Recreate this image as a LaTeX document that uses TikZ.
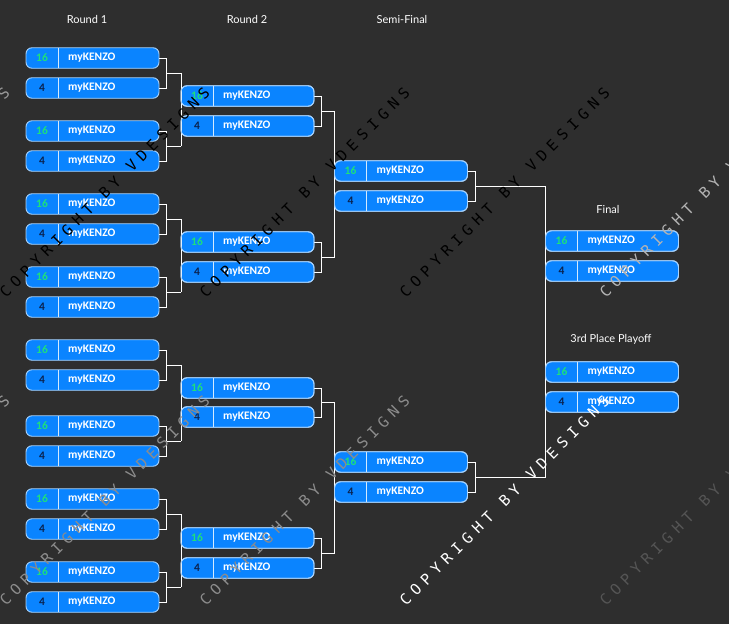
\documentclass[tikz,border=0pt]{standalone}
\usepackage{fontspec}
\setmainfont{Lato}
\newfontfamily\boxfont{Carlito}
\newfontfamily\wmfont{DejaVu Sans Mono}[LetterSpace=37]
\usetikzlibrary{calc}
\definecolor{bg}{HTML}{2E2E2E}
\definecolor{boxblue}{HTML}{0A84FF}
\definecolor{boxline}{HTML}{A8D4FF}
\definecolor{seedgreen}{HTML}{1EE07A}
\definecolor{seednavy}{HTML}{0A2350}
\definecolor{wmgray}{HTML}{999999}
\definecolor{wmlight}{HTML}{B4B4B4}
\definecolor{wmmid}{HTML}{8C8C8C}
\definecolor{wmdark}{HTML}{555555}
\tikzset{
  teamnode/.style={rectangle, rounded corners=6pt, minimum width=133pt, minimum height=20.5pt,
    inner sep=0pt, outer sep=0pt, fill=boxblue, draw=boxline, line width=0.9pt},
  divline/.style={draw=boxline!50!white, line width=0.9pt},
  seedtext/.style={font=\boxfont\bfseries\fontsize{11.5}{12}\selectfont, inner sep=0pt},
  nametext/.style={font=\boxfont\bfseries\fontsize{11.5}{12}\selectfont, text=white, inner sep=0pt, anchor=west},
  conn/.style={draw=white, line width=1pt},
  header/.style={font=\fontsize{11}{13}\selectfont, text=white, inner sep=0pt},
  wm/.style={font=\wmfont\fontsize{15}{15}\selectfont, rotate=45, anchor=base west, inner sep=0pt},
}
\newcommand\teambox[5]{%
  \node[teamnode] (#1) at (#2,#3) {};
  \draw[divline] ([xshift=32pt]#1.north west) -- ([xshift=32pt]#1.south west);
  \node[seedtext, text=#5] (#1-s) at ([xshift=16pt]#1.west) {#4};
  \node[nametext] (#1-n) at ([xshift=42pt]#1.west) {myKENZO};
}
\newcommand\pairjoin[4]{% a, b, target, midname
  \draw[conn] (#1.east) -- ++(7.5,0) |- (#2.east);
  \coordinate (#4) at ($(#1.east)!0.5!(#2.east)+(7.5,0)$);
  \draw[conn] (#4) -- (#4 -| #3.west);
}
\begin{document}
\begin{tikzpicture}[x=1pt,y=-1pt]
\fill[bg] (0,0) rectangle (729,624);
\useasboundingbox (0,0) rectangle (729,624);
\clip (0,0) rectangle (729,624);

% headers
\node[header] (h1) at (87,19) {Round 1};
\node[header] (h2) at (247,19) {Round 2};
\node[header] (h3) at (402,19) {Semi-Final};
\node[header] (h4) at (608,209) {Final};
\node[header] (h5) at (611,339) {3rd Place Playoff};

% Round 1
\foreach \i/\y in {1/58,3/131,5/204,7/277,9/350,11/426,13/499,15/572}{
  \teambox{r1-\i}{92.5}{\y}{16}{seedgreen}
}
\foreach \i/\y in {2/88,4/161,6/234,8/307,10/380,12/456,14/529,16/602}{
  \teambox{r1-\i}{92.5}{\y}{4}{seednavy}
}
% Round 2
\foreach \i/\y in {1/96,3/242,5/388,7/538}{
  \teambox{r2-\i}{247.5}{\y}{16}{seedgreen}
}
\foreach \i/\y in {2/126,4/272,6/417,8/568}{
  \teambox{r2-\i}{247.5}{\y}{4}{seednavy}
}
% Semi-final
\teambox{sf-1}{401}{171}{16}{seedgreen}
\teambox{sf-2}{401}{201}{4}{seednavy}
\teambox{sf-3}{401}{462}{16}{seedgreen}
\teambox{sf-4}{401}{492}{4}{seednavy}
% Final and 3rd place
\teambox{f-1}{612}{241}{16}{seedgreen}
\teambox{f-2}{612}{271}{4}{seednavy}
\teambox{tp-1}{612}{372}{16}{seedgreen}
\teambox{tp-2}{612}{402}{4}{seednavy}

% connectors round 1 -> round 2
\pairjoin{r1-1}{r1-2}{r2-1}{m1-1}
\pairjoin{r1-3}{r1-4}{r2-1}{m1-2}
\pairjoin{r1-5}{r1-6}{r2-1}{m1-3}
\pairjoin{r1-7}{r1-8}{r2-1}{m1-4}
\pairjoin{r1-9}{r1-10}{r2-1}{m1-5}
\pairjoin{r1-11}{r1-12}{r2-1}{m1-6}
\pairjoin{r1-13}{r1-14}{r2-1}{m1-7}
\pairjoin{r1-15}{r1-16}{r2-1}{m1-8}
\draw[conn] (m1-1 -| r2-1.west) -- (m1-2 -| r2-1.west);
\draw[conn] (m1-3 -| r2-1.west) -- (m1-4 -| r2-1.west);
\draw[conn] (m1-5 -| r2-1.west) -- (m1-6 -| r2-1.west);
\draw[conn] (m1-7 -| r2-1.west) -- (m1-8 -| r2-1.west);
% round 2 -> semi
\pairjoin{r2-1}{r2-2}{sf-1}{m2-1}
\pairjoin{r2-3}{r2-4}{sf-1}{m2-2}
\pairjoin{r2-5}{r2-6}{sf-1}{m2-3}
\pairjoin{r2-7}{r2-8}{sf-1}{m2-4}
\draw[conn] (m2-1 -| sf-1.west) -- (m2-2 -| sf-1.west);
\draw[conn] (m2-3 -| sf-1.west) -- (m2-4 -| sf-1.west);
% semi -> final
\pairjoin{sf-1}{sf-2}{f-1}{m3-1}
\pairjoin{sf-3}{sf-4}{f-1}{m3-2}
\draw[conn] (m3-1 -| f-1.west) -- (m3-2 -| f-1.west);

% redraw box outlines over the vertical lines
\foreach \n in {r2-1,r2-2,r2-3,r2-4,r2-5,r2-6,r2-7,r2-8,sf-1,sf-2,sf-3,sf-4,f-1,f-2,tp-1,tp-2}{
  \draw[boxline, line width=0.9pt, rounded corners=6pt] (\n.north west) rectangle (\n.south east);
}

% watermarks
\node[wm, text=wmgray]  (w1) at (-194,299) {COPYRIGHT BY VDESIGNS};
\node[wm, text=black]   (w2) at (6,299) {COPYRIGHT BY VDESIGNS};
\node[wm, text=black]   (w3) at (206,299) {COPYRIGHT BY VDESIGNS};
\node[wm, text=black]   (w4) at (406,299) {COPYRIGHT BY VDESIGNS};
\node[wm, text=wmlight] (w5) at (606,299) {COPYRIGHT BY VDESIGNS};
\node[wm, text=wmgray]  (w6) at (-194,607) {COPYRIGHT BY VDESIGNS};
\node[wm, text=wmmid]   (w7) at (6,607) {COPYRIGHT BY VDESIGNS};
\node[wm, text=wmmid]   (w8) at (206,607) {COPYRIGHT BY VDESIGNS};
\node[wm, text=white]   (w9) at (406,607) {COPYRIGHT BY VDESIGNS};
\node[wm, text=wmdark]  (w10) at (606,607) {COPYRIGHT BY VDESIGNS};
\end{tikzpicture}
\end{document}
